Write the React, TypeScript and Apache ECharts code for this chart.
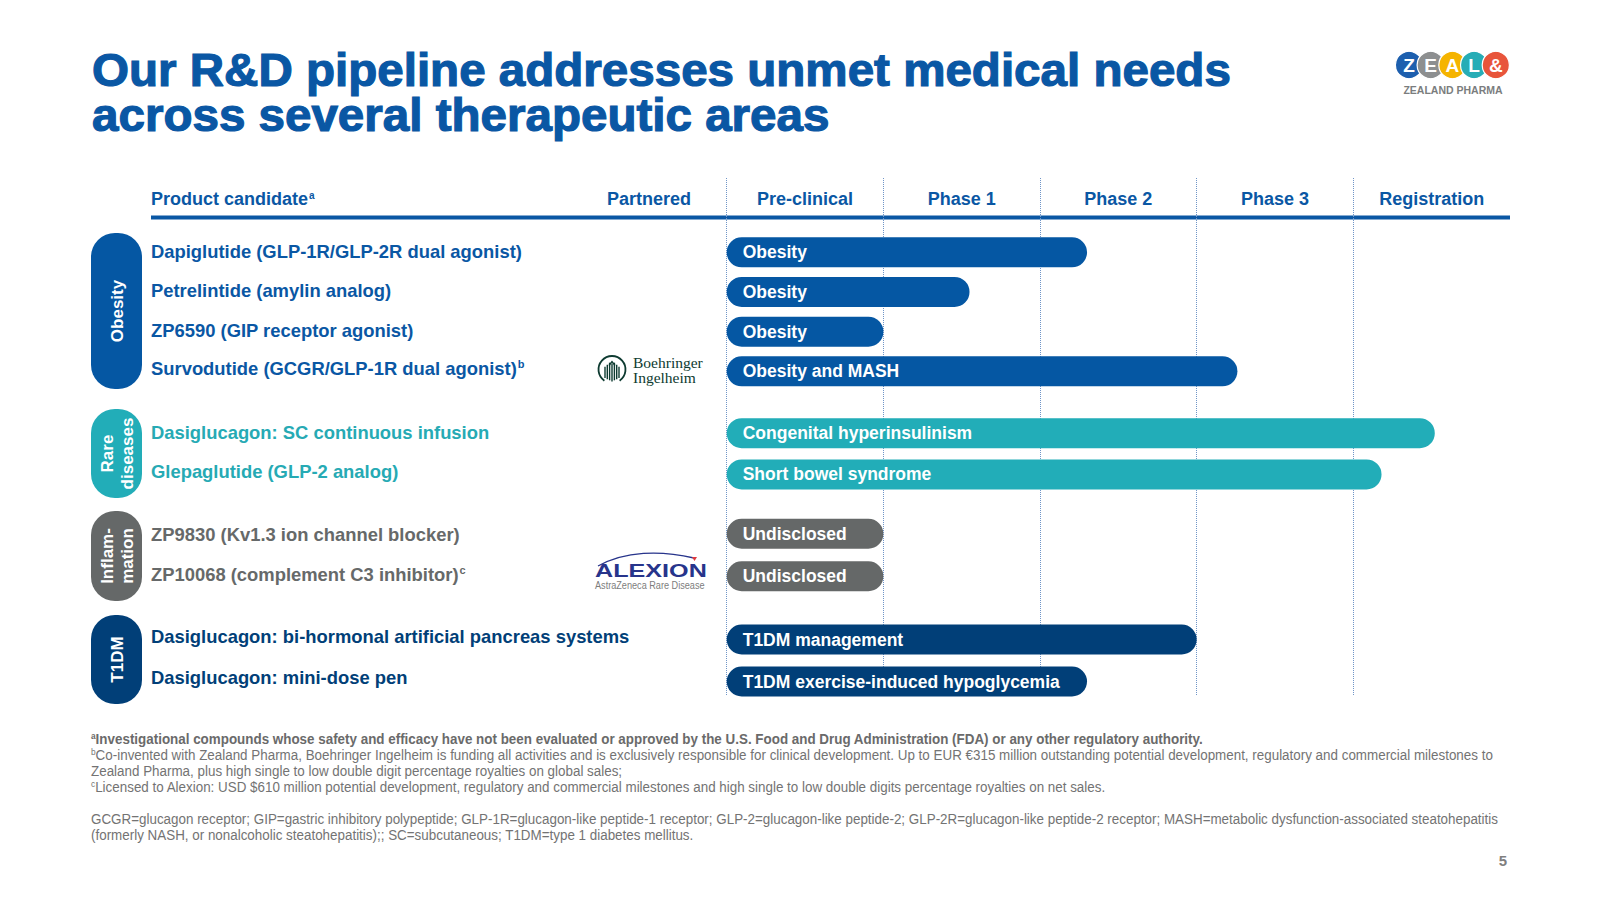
import React, { useEffect, useRef } from 'react';
import * as echarts from 'echarts';

// ---------------- data ----------------
const phases = ['Pre-clinical', 'Phase 1', 'Phase 2', 'Phase 3', 'Registration'];

const obesityProducts = [
  'Dapiglutide (GLP-1R/GLP-2R dual agonist)',
  'Petrelintide (amylin analog)',
  'ZP6590 (GIP receptor agonist)',
  'Survodutide (GCGR/GLP-1R dual agonist)',
];
const obesityNotes = ['', '', '', 'b'];
const obesityIndications = ['Obesity', 'Obesity', 'Obesity', 'Obesity and MASH'];
const obesityProgress = [2.3, 1.55, 1.0, 3.26];

const rareProducts = ['Dasiglucagon: SC continuous infusion', 'Glepaglutide (GLP-2 analog)'];
const rareNotes = ['', ''];
const rareIndications = ['Congenital hyperinsulinism', 'Short bowel syndrome'];
const rareProgress = [4.52, 4.18];

const inflamProducts = ['ZP9830 (Kv1.3 ion channel blocker)', 'ZP10068 (complement C3 inhibitor)'];
const inflamNotes = ['', 'c'];
const inflamIndications = ['Undisclosed', 'Undisclosed'];
const inflamProgress = [1.0, 1.0];

const t1dmProducts = ['Dasiglucagon: bi-hormonal artificial pancreas systems', 'Dasiglucagon: mini-dose pen'];
const t1dmNotes = ['', ''];
const t1dmIndications = ['T1DM management', 'T1DM exercise-induced hypoglycemia'];
const t1dmProgress = [3.0, 2.3];

const groupNames = ['Obesity', 'Rare\ndiseases', 'Inflam-\nmation', 'T1DM'];

const titleLines = ['Our R&D pipeline addresses unmet medical needs', 'across several therapeutic areas'];

const footnoteA = 'Investigational compounds whose safety and efficacy have not been evaluated or approved by the U.S. Food and Drug Administration (FDA) or any other regulatory authority.';
const footnoteB1 = 'Co-invented with Zealand Pharma, Boehringer Ingelheim is funding all activities and is exclusively responsible for clinical development. Up to EUR €315 million outstanding potential development, regulatory and commercial milestones to';
const footnoteB2 = 'Zealand Pharma, plus high single to low double digit percentage royalties on global sales;';
const footnoteC = 'Licensed to Alexion: USD $610 million potential development, regulatory and commercial milestones and high single to low double digits percentage royalties on net sales.';
const abbrev1 = 'GCGR=glucagon receptor; GIP=gastric inhibitory polypeptide; GLP-1R=glucagon-like peptide-1 receptor; GLP-2=glucagon-like peptide-2; GLP-2R=glucagon-like peptide-2 receptor; MASH=metabolic dysfunction-associated steatohepatitis';
const abbrev2 = '(formerly NASH, or nonalcoholic steatohepatitis);; SC=subcutaneous; T1DM=type 1 diabetes mellitus.';

// ---------------- styles / layout ----------------
const FONT = "'Liberation Sans', Arial, sans-serif";
const BLUE = '#0a57a4';
const TEAL = '#22adb8';
const GRAY = '#656868';
const NAVY = '#013f78';

// labelLift: how many px each product label sits above its bar's centre (layout only)
const groups = [
  { name: groupNames[0], products: obesityProducts, notes: obesityNotes, ind: obesityIndications, prog: obesityProgress,
    bar: '#0557a3', text: BLUE, top: 232.5, height: 158.6, pillY: 233, pillH: 156, labelLift: [1, 1, 1.5, 2.5] },
  { name: groupNames[1], products: rareProducts, notes: rareNotes, ind: rareIndications, prog: rareProgress,
    bar: TEAL, text: '#26aab4', top: 412.5, height: 82.6, pillY: 409, pillH: 89, labelLift: [1, 3] },
  { name: groupNames[2], products: inflamProducts, notes: inflamNotes, ind: inflamIndications, prog: inflamProgress,
    bar: GRAY, text: '#666969', top: 512.5, height: 85, pillY: 511, pillH: 90, labelLift: [-1, 2] },
  { name: groupNames[3], products: t1dmProducts, notes: t1dmNotes, ind: t1dmIndications, prog: t1dmProgress,
    bar: NAVY, text: NAVY, top: 618.5, height: 84, pillY: 615, pillH: 89, labelLift: [3, 4.5] },
];

const GRID_LEFT = 726.7;
const GRID_RIGHT = 90;
const LABEL_X = 151;

function buildOption() {
  const grid: any[] = [{ left: GRID_LEFT, right: GRID_RIGHT, top: 178, height: 518 }];
  const xAxis: any[] = [{
    gridIndex: 0, type: 'category', position: 'top', data: phases, boundaryGap: true,
    axisLine: { show: false }, axisTick: { show: false },
    axisLabel: { inside: true, margin: 11.5, color: BLUE, fontSize: 18, fontWeight: 'bold', fontFamily: FONT },
    splitLine: { show: true, showMinLine: true, showMaxLine: false, lineStyle: { type: 'dotted', color: '#6f95c8', width: 1 } },
  }];
  const yAxis: any[] = [{ gridIndex: 0, type: 'value', show: false, min: 0, max: 1 }];
  const series: any[] = [];

  groups.forEach((g, gi) => {
    const idx = gi + 1;
    grid.push({ left: GRID_LEFT, right: GRID_RIGHT, top: g.top, height: g.height });
    xAxis.push({ gridIndex: idx, type: 'value', min: 0, max: 5, show: false });
    const rich: any = {};
    g.labelLift.forEach((d, i) => {
      const pad = d >= 0 ? [0, 0, 2 * d, 0] : [-2 * d, 0, 0, 0];
      rich['p' + i] = { fontSize: 18.4, fontWeight: 'bold', color: g.text, fontFamily: FONT, padding: pad };
      rich['s' + i] = { fontSize: 11, fontWeight: 'bold', color: g.text, fontFamily: FONT, padding: [0, 0, Math.max(0, 9 + 2 * d), 1] };
    });
    yAxis.push({
      gridIndex: idx, type: 'category', inverse: true, data: g.products,
      axisLine: { show: false }, axisTick: { show: false }, splitLine: { show: false },
      axisLabel: {
        align: 'left', margin: GRID_LEFT - LABEL_X, fontFamily: FONT,
        formatter: (v: string, i: number) => (g.notes[i] ? `{p${i}|${v}}{s${i}|${g.notes[i]}}` : `{p${i}|${v}}`),
        rich,
      },
    });
    series.push({
      type: 'bar', xAxisIndex: idx, yAxisIndex: idx, data: g.prog, barWidth: 30,
      itemStyle: { color: g.bar, borderRadius: 15 },
      label: {
        show: true, position: 'insideLeft', distance: 16, color: '#fff', fontSize: 17.5, fontWeight: 'bold', fontFamily: FONT,
        formatter: (p: any) => g.ind[p.dataIndex],
      },
      silent: true,
    });
  });

  const graphic: any[] = [];
  // title
  titleLines.forEach((t, i) => {
    graphic.push({ type: 'text', x: 92, y: 70 + i * 45, scaleX: 1.012, style: {
      text: t, fill: BLUE, font: `bold 47px ${FONT}`, lineHeight: 42, textVerticalAlign: 'middle', stroke: BLUE, lineWidth: 1.2 } });
  });
  // logo
  const logoLetters = ['Z', 'E', 'A', 'L', '&'];
  const logoColors = ['#1d5fae', '#8d8f90', '#f5b400', '#27adb6', '#e8553b'];
  logoLetters.forEach((l, i) => {
    graphic.push({ type: 'circle', shape: { cx: 1409 + i * 21.7, cy: 65, r: 13.6 }, style: { fill: logoColors[i], stroke: '#fff', lineWidth: 1.2 } });
    graphic.push({ type: 'text', x: 1409 + i * 21.7, y: 65.5, style: { text: l, fill: '#fff', font: `bold 19px ${FONT}`, textAlign: 'center', textVerticalAlign: 'middle' } });
  });
  graphic.push({ type: 'text', x: 1453, y: 90, style: { text: 'ZEALAND PHARMA', fill: '#7b7d7e', font: `bold 10.5px ${FONT}`, textAlign: 'center', textVerticalAlign: 'middle' } });

  // header
  graphic.push({ type: 'text', x: LABEL_X, y: 199, style: {
    text: '{p|Product candidate}{s|a}', textVerticalAlign: 'middle',
    rich: { p: { fontSize: 18, fontWeight: 'bold', fill: BLUE, fontFamily: FONT }, s: { fontSize: 10, fontWeight: 'bold', fill: BLUE, fontFamily: FONT, padding: [0, 0, 8, 1] } },
  } });
  graphic.push({ type: 'text', x: 649, y: 199, style: { text: 'Partnered', fill: BLUE, font: `bold 18px ${FONT}`, textAlign: 'center', textVerticalAlign: 'middle' } });
  graphic.push({ type: 'line', shape: { x1: LABEL_X, y1: 217.5, x2: 1510, y2: 217.5 }, style: { stroke: BLUE, lineWidth: 4 } });

  // group pills
  groups.forEach((g) => {
    graphic.push({ type: 'rect', shape: { x: 91, y: g.pillY, width: 51, height: g.pillH, r: 24 }, style: { fill: g.bar } });
    graphic.push({ type: 'text', x: 117, y: g.pillY + g.pillH / 2, rotation: Math.PI / 2, style: {
      text: g.name, fill: '#fff', font: `bold 17px ${FONT}`, textAlign: 'center', textVerticalAlign: 'middle', lineHeight: 20 } });
  });

  // Boehringer Ingelheim logo
  const biC = '#0e3b31';
  const bx = 612, by = 369.5;
  graphic.push({ type: 'arc', shape: { cx: bx, cy: by, r: 13.5, startAngle: Math.PI / 2 + 0.6, endAngle: Math.PI / 2 - 0.6 + Math.PI * 2, clockwise: true }, style: { stroke: biC, lineWidth: 1.8, fill: 'none' } });
  [-7, -4.7, -2.4, 0, 2.4, 4.7, 7].forEach((dx) => {
    const top = by - 9 + Math.abs(dx) * 0.9;
    graphic.push({ type: 'line', shape: { x1: bx + dx, y1: top + (Math.abs(dx) < 1 ? 3 : 0), x2: bx + dx, y2: by + 12 - Math.abs(dx) * 0.5 }, style: { stroke: biC, lineWidth: 1.4 } });
  });
  graphic.push({ type: 'polyline', shape: { points: [[bx - 3, by - 4], [bx, by - 8], [bx + 3, by - 4]] }, style: { stroke: biC, lineWidth: 1.3, fill: 'none' } });
  graphic.push({ type: 'text', x: 633, y: 362.5, style: { text: 'Boehringer', fill: biC, font: `15.5px 'Liberation Serif', serif`, textVerticalAlign: 'middle' } });
  graphic.push({ type: 'text', x: 633, y: 377.5, style: { text: 'Ingelheim', fill: biC, font: `15.5px 'Liberation Serif', serif`, textVerticalAlign: 'middle' } });

  // Alexion logo
  const axC = '#27348b';
  graphic.push({ type: 'bezierCurve', shape: { x1: 598, y1: 566, cpx1: 625, cpy1: 551, x2: 694, y2: 558, cpx2: 660, cpy2: 550 }, style: { stroke: axC, lineWidth: 1.3, fill: 'none' } });
  graphic.push({ type: 'polygon', shape: { points: [[692, 557], [697, 557], [694.5, 561]] }, style: { fill: '#e03a3e' } });
  graphic.push({ type: 'text', x: 595, y: 570.5, scaleX: 1.36, style: { text: 'ALEXION', fill: axC, font: `bold 18.5px ${FONT}`, textVerticalAlign: 'middle' } });
  graphic.push({ type: 'text', x: 595, y: 585, scaleX: 0.87, style: { text: 'AstraZeneca Rare Disease', fill: '#7d7d7d', font: `10.5px ${FONT}`, textVerticalAlign: 'middle' } });

  // footnotes
  const fnGray = '#737373';
  const supRich = (col: string, bold: boolean) => ({
    s: { fontSize: 9, fill: col, fontFamily: FONT, fontWeight: bold ? 'bold' : 'normal', padding: [0, 0, 6, 0] },
    t: { fontSize: 14.5, fill: col, fontFamily: FONT, fontWeight: bold ? 'bold' : 'normal' },
  });
  const fnLines: [string, string, boolean, number][] = [
    ['a', footnoteA, true, 739],
    ['b', footnoteB1, false, 755],
    ['', footnoteB2, false, 771],
    ['c', footnoteC, false, 787],
    ['', abbrev1, false, 819],
    ['', abbrev2, false, 835],
  ];
  fnLines.forEach(([sup, txt, bold, y]) => {
    graphic.push({ type: 'text', x: 91, y, scaleX: 0.925, style: {
      text: (sup ? `{s|${sup}}` : '') + `{t|${txt}}`, textVerticalAlign: 'middle', rich: supRich(bold ? '#6a6a6a' : fnGray, bold) } });
  });
  graphic.push({ type: 'text', x: 1503, y: 860, style: { text: '5', fill: '#7f7f7f', font: `bold 15px ${FONT}`, textAlign: 'center', textVerticalAlign: 'middle' } });

  return {
    animation: false,
    backgroundColor: '#ffffff',
    textStyle: { fontFamily: FONT },
    grid, xAxis, yAxis, series, graphic,
  };
}

export default function App() {
  const ref = useRef<HTMLDivElement>(null);
  useEffect(() => {
    if (!ref.current) return;
    const chart = echarts.init(ref.current, undefined, { renderer: 'svg' });
    chart.setOption(buildOption() as any);
    return () => chart.dispose();
  }, []);
  return <div ref={ref} style={{ position: 'absolute', left: 0, top: 0, width: 1600, height: 900 }} />;
}
